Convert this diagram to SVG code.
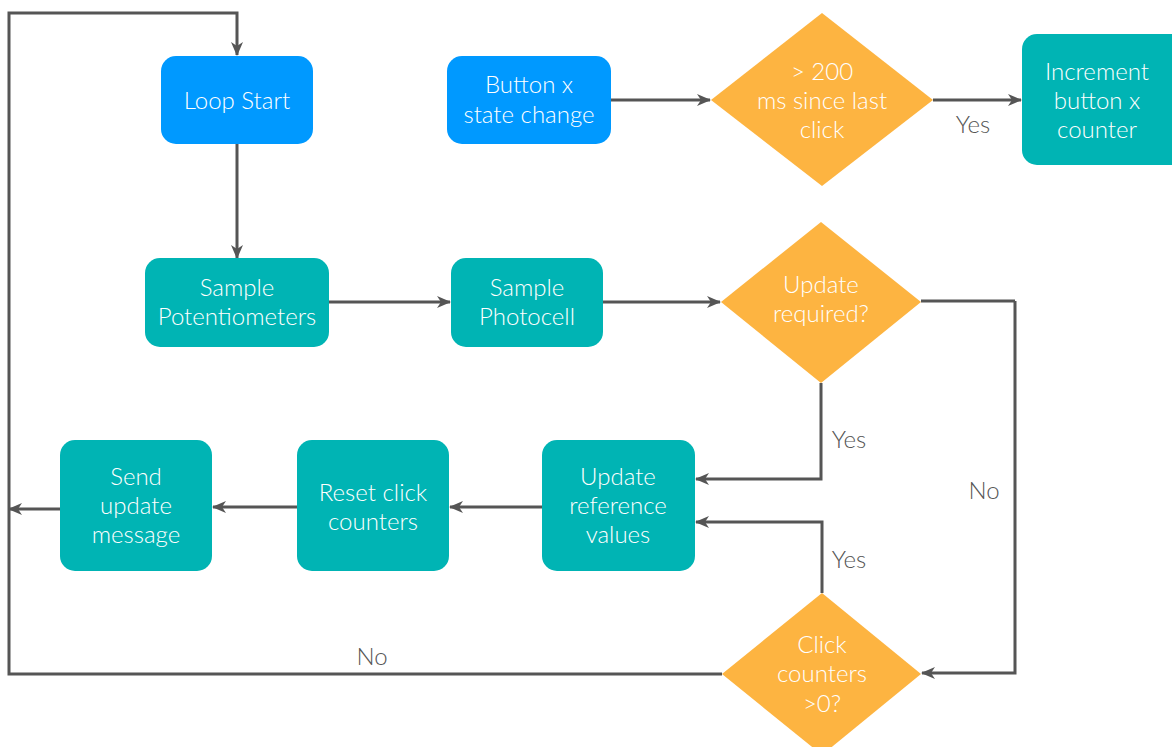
<svg xmlns="http://www.w3.org/2000/svg" width="1172" height="747" viewBox="0 0 1172 747">
  <style>
    .start { fill: #0099ff; }
    .step { fill: #00b4b4; }
    .decision { fill: #fdb441; }
    .label { font-family: Lato, "Liberation Sans", sans-serif; font-weight: 300; font-size: 24px; fill: #ffffff; text-anchor: middle; }
    .edge-label { font-family: Lato, "Liberation Sans", sans-serif; font-weight: 300; font-size: 24px; fill: #555555; text-anchor: middle; }
    .wire { fill: none; stroke: #555555; stroke-width: 3; }
    .arrow { marker-end: url(#head); }
  </style>
  <defs>
    <marker id="head" viewBox="0 0 14 12" refX="13" refY="6" markerWidth="14" markerHeight="12" markerUnits="userSpaceOnUse" orient="auto">
      <path d="M0,0 L14,6 L0,12 L4,6 Z" fill="#555555"/>
    </marker>
  </defs>
  <rect width="1172" height="747" fill="#ffffff"/>

  <g id="connectors">
    <!-- main loop -->
    <path class="wire arrow" d="M237,144 V258"/>
    <path class="wire arrow" d="M329,302 H450"/>
    <path class="wire arrow" d="M603,302 H720"/>
    <path class="wire arrow" d="M821,383 V479 H696"/>
    <path class="wire arrow" d="M1015,301 V673 H922" />
    <path class="wire" d="M921,301 H1015"/>
    <path class="wire arrow" d="M822,593 V522 H696"/>
    <path class="wire arrow" d="M542,507 H450"/>
    <path class="wire arrow" d="M297,507 H213"/>
    <path class="wire arrow" d="M60,509 H9"/>
    <path class="wire arrow" d="M722,674 H9 V13 H237 V55"/>
    <!-- button interrupt -->
    <path class="wire arrow" d="M611,100 H710"/>
    <path class="wire arrow" d="M933,100 H1021"/>
  </g>

  <g id="edge-labels">
    <text class="edge-label" x="973" y="133">Yes</text>
    <text class="edge-label" x="849" y="448">Yes</text>
    <text class="edge-label" x="849" y="568">Yes</text>
    <text class="edge-label" x="984" y="499">No</text>
    <text class="edge-label" x="372" y="665">No</text>
  </g>

  <g id="loop-start">
    <rect class="start" x="161" y="56" width="152" height="88" rx="15"/>
    <text class="label" x="237" y="109">Loop Start</text>
  </g>

  <g id="button-change">
    <rect class="start" x="447" y="56" width="164" height="88" rx="15"/>
    <text class="label" x="529" y="93">Button x</text>
    <text class="label" x="529" y="123">state change</text>
  </g>

  <g id="debounce-check">
    <polygon class="decision" points="822,13 933,100 822,186 711,100"/>
    <text class="label" x="822" y="80">&gt; 200</text>
    <text class="label" x="822" y="109">ms since last</text>
    <text class="label" x="822" y="138">click</text>
  </g>

  <g id="increment-counter">
    <rect class="step" x="1022" y="34" width="170" height="131" rx="15"/>
    <text class="label" x="1097" y="80">Increment</text>
    <text class="label" x="1097" y="109">button x</text>
    <text class="label" x="1097" y="138">counter</text>
  </g>

  <g id="sample-pots">
    <rect class="step" x="145" y="258" width="184" height="89" rx="15"/>
    <text class="label" x="237" y="296">Sample</text>
    <text class="label" x="237" y="325">Potentiometers</text>
  </g>

  <g id="sample-photocell">
    <rect class="step" x="451" y="258" width="152" height="89" rx="15"/>
    <text class="label" x="527" y="296">Sample</text>
    <text class="label" x="527" y="325">Photocell</text>
  </g>

  <g id="update-required">
    <polygon class="decision" points="821,222 921,302 821,383 721,302"/>
    <text class="label" x="821" y="293">Update</text>
    <text class="label" x="821" y="322">required?</text>
  </g>

  <g id="update-reference">
    <rect class="step" x="542" y="440" width="153" height="131" rx="15"/>
    <text class="label" x="618" y="485">Update</text>
    <text class="label" x="618" y="514">reference</text>
    <text class="label" x="618" y="543">values</text>
  </g>

  <g id="reset-counters">
    <rect class="step" x="297" y="440" width="152" height="131" rx="15"/>
    <text class="label" x="373" y="501">Reset click</text>
    <text class="label" x="373" y="530">counters</text>
  </g>

  <g id="send-update">
    <rect class="step" x="60" y="440" width="152" height="131" rx="15"/>
    <text class="label" x="136" y="485">Send</text>
    <text class="label" x="136" y="514">update</text>
    <text class="label" x="136" y="543">message</text>
  </g>

  <g id="click-counters">
    <polygon class="decision" points="822,593 921,674 822,755 722,674"/>
    <text class="label" x="822" y="653">Click</text>
    <text class="label" x="822" y="682">counters</text>
    <text class="label" x="822" y="712">&gt;0?</text>
  </g>
</svg>
